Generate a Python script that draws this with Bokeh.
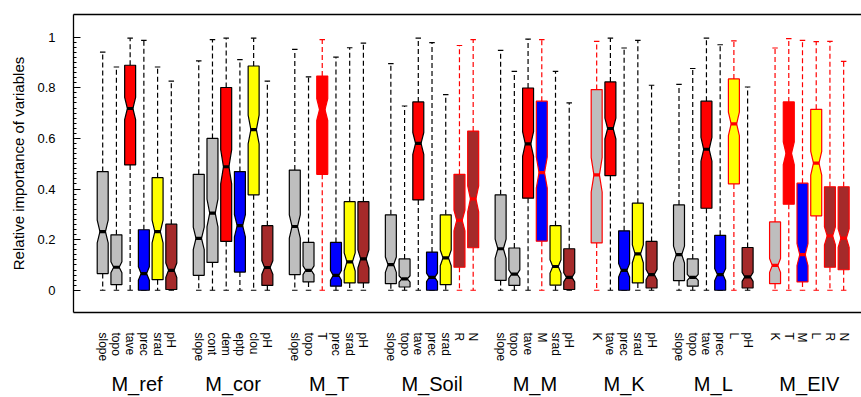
import math
from bokeh.plotting import figure
from bokeh.models import LinearAxis, FixedTicker, Range1d
from bokeh.embed import file_html
from bokeh.resources import INLINE

# ---------------- data ----------------
groups = ["M_ref", "M_cor", "M_T", "M_Soil", "M_M", "M_K", "M_L", "M_EIV"]
group_vars = [
    ["slope", "topo", "tave", "prec", "srad", "pH"],
    ["slope", "cont", "dem", "eptp", "clou", "pH"],
    ["slope", "topo", "T", "prec", "srad", "pH"],
    ["slope", "topo", "tave", "prec", "srad", "R", "N"],
    ["slope", "topo", "tave", "M", "srad", "pH"],
    ["K", "tave", "prec", "srad", "pH"],
    ["slope", "topo", "tave", "prec", "L", "pH"],
    ["K", "T", "M", "L", "R", "N"],
]
whisker_hi = [
    0.941, 0.882, 0.996, 0.987, 0.882, 0.826,
    0.906, 0.990, 0.996, 0.911, 0.996, 0.826,
    0.952, 0.843, 0.990, 0.921, 0.958, 0.976,
    0.895, 0.728, 0.996, 0.978, 0.773, 0.967, 0.990,
    0.948, 0.865, 0.992, 0.990, 0.865, 0.740,
    0.983, 0.996, 0.957, 0.987, 0.810,
    0.813, 0.876, 0.996, 0.970, 0.985, 0.803,
    0.957, 0.994, 0.987, 0.982, 0.983, 0.904,
]
q3 = [
    0.469, 0.219, 0.889, 0.239, 0.445, 0.261,
    0.458, 0.600, 0.801, 0.469, 0.886, 0.255,
    0.475, 0.189, 0.846, 0.189, 0.350, 0.350,
    0.298, 0.124, 0.744, 0.151, 0.298, 0.458, 0.629,
    0.377, 0.167, 0.799, 0.747, 0.255, 0.164,
    0.793, 0.823, 0.235, 0.344, 0.193,
    0.337, 0.124, 0.747, 0.217, 0.835, 0.169,
    0.270, 0.744, 0.423, 0.715, 0.409, 0.409,
]
median = [
    0.232, 0.091, 0.718, 0.066, 0.232, 0.079,
    0.205, 0.305, 0.488, 0.255, 0.635, 0.090,
    0.252, 0.079, 0.714, 0.059, 0.112, 0.124,
    0.101, 0.045, 0.580, 0.051, 0.128, 0.276, 0.361,
    0.164, 0.064, 0.578, 0.465, 0.094, 0.051,
    0.456, 0.639, 0.079, 0.144, 0.062,
    0.141, 0.051, 0.557, 0.062, 0.657, 0.053,
    0.098, 0.541, 0.141, 0.502, 0.215, 0.206,
]
q1 = [
    0.066, 0.022, 0.495, 0.000, 0.042, 0.003,
    0.059, 0.110, 0.193, 0.072, 0.377, 0.019,
    0.062, 0.033, 0.458, 0.016, 0.029, 0.029,
    0.026, 0.013, 0.357, 0.000, 0.022, 0.091, 0.168,
    0.039, 0.019, 0.364, 0.194, 0.020, 0.003,
    0.187, 0.453, 0.000, 0.029, 0.009,
    0.038, 0.016, 0.324, 0.000, 0.420, 0.009,
    0.026, 0.340, 0.033, 0.294, 0.091, 0.081,
]
whisker_lo = [
    0, 0, 0, 0, 0, 0,
    0, 0, 0, 0, 0, 0,
    0, 0, 0, 0, 0, 0,
    0, 0, 0, 0, 0, 0, 0,
    0, 0, 0, 0, 0, 0,
    0, 0, 0, 0, 0,
    0, 0, 0, 0, 0, 0,
    0, 0, 0, 0, 0, 0,
]
n_runs = 200  # sample size per box, used for the notch (1.58*IQR/sqrt(n))
y_ticks = [0, 0.2, 0.4, 0.6, 0.8, 1.0]
y_tick_labels = ["0", "0.2", "0.4", "0.6", "0.8", "1"]
eiv_vars = {"K", "T", "M", "L", "R", "N"}

GRAY, RED, BLUE, YELLOW, BROWN = "#BEBEBE", "#FF0000", "#0000FF", "#FFFF00", "#A52A2A"
fill_of = {"slope": GRAY, "topo": GRAY, "cont": GRAY, "K": GRAY,
           "tave": RED, "dem": RED, "T": RED,
           "prec": BLUE, "eptp": BLUE, "M": BLUE,
           "srad": YELLOW, "clou": YELLOW, "L": YELLOW,
           "pH": BROWN, "R": BROWN, "N": BROWN}

# ---------------- layout of boxes ----------------
positions, labels, group_centers = [], [], []
pos = 0
for gi, vars_ in enumerate(group_vars):
    if gi > 0:
        pos += 1
    start = pos + 1
    for v in vars_:
        pos += 1
        positions.append(pos)
        labels.append(v)
    group_centers.append((start + pos) / 2)

FONT = "Liberation Sans"
p = figure(width=861, height=397, output_backend="svg", toolbar_location=None,
           x_range=Range1d(-1.128, 56.30), y_range=Range1d(-0.0878, 1.0894),
           min_border_left=73, min_border_right=0, min_border_top=14,
           min_border_bottom=84, outline_line_color=None)
p.grid.visible = False
p.background_fill_color = "white"
p.border_fill_color = "white"

hw = 0.4      # half box width
nf = 0.5      # notch fraction
sw = 0.2      # half staple width
xs, ys, fills, borders = [], [], [], []
wx0, wy0, wx1, wy1, wcol = [], [], [], [], []
sx0, sx1, sy, scol = [], [], [], []
mx0, mx1, my, mcol = [], [], [], []
for i, x in enumerate(positions):
    lab = labels[i]
    b = RED if lab in eiv_vars else "black"
    iqr = q3[i] - q1[i]
    d = 1.58 * iqr / math.sqrt(n_runs)
    lo, hi = median[i] - d, median[i] + d
    xs.append([x - hw, x + hw, x + hw, x + hw * nf, x + hw, x + hw,
               x - hw, x - hw, x - hw * nf, x - hw])
    ys.append([q1[i], q1[i], lo, median[i], hi, q3[i], q3[i], hi, median[i], lo])
    fills.append(fill_of[lab])
    borders.append(b)
    wx0 += [x, x]; wx1 += [x, x]
    wy0 += [q3[i], q1[i]]; wy1 += [whisker_hi[i], whisker_lo[i]]
    wcol += [b, b]
    sx0 += [x - sw, x - sw]; sx1 += [x + sw, x + sw]
    sy += [whisker_hi[i], whisker_lo[i]]; scol += [b, b]
    mx0.append(x - hw * nf - 0.03); mx1.append(x + hw * nf + 0.03)
    my.append(median[i]); mcol.append(b)

p.segment(x0=wx0, y0=wy0, x1=wx1, y1=wy1, line_color=wcol, line_width=1.2,
          line_dash="5 3")
p.segment(x0=sx0, y0=sy, x1=sx1, y1=sy, line_color=scol, line_width=1.2)
p.patches(xs=xs, ys=ys, fill_color=fills, line_color=borders, line_width=1.2)
p.segment(x0=mx0, y0=my, x1=mx1, y1=my, line_color=mcol, line_width=3.2)

# ---------------- axes ----------------
xa = p.xaxis[0]
xa.ticker = FixedTicker(ticks=positions)
xa.major_label_overrides = {x: l for x, l in zip(positions, labels)}
xa.major_label_orientation = "vertical"
xa.major_label_text_font = FONT
xa.major_label_text_font_size = "12px"
xa.major_label_text_color = "black"
xa.major_label_standoff = 20
xa.major_tick_in = 0
xa.major_tick_out = 0
xa.minor_tick_line_color = None
xa.axis_line_color = "black"
xa.axis_line_width = 1.3

ga = LinearAxis(ticker=FixedTicker(ticks=group_centers))
ga.major_label_overrides = {x: g for x, g in zip(group_centers, groups)}
ga.major_label_text_font = FONT
ga.major_label_text_font_size = "20px"
ga.major_label_text_color = "black"
ga.major_label_standoff = 8
ga.major_tick_in = 0
ga.major_tick_out = 0
ga.major_tick_line_color = None
ga.minor_tick_line_color = None
ga.axis_line_color = None
p.add_layout(ga, "below")

ta = LinearAxis(ticker=FixedTicker(ticks=[]))
ta.axis_line_color = "black"
ta.axis_line_width = 1.3
ta.major_tick_line_color = None
ta.minor_tick_line_color = None
ta.major_tick_in = 0
ta.major_tick_out = 0
ta.major_label_standoff = 0
ta.major_label_text_font_size = "0px"
p.add_layout(ta, "above")

ya = p.yaxis[0]
minor = [k / 50 for k in range(51)]
ya.ticker = FixedTicker(ticks=y_ticks, minor_ticks=minor)
ya.major_label_overrides = {t: l for t, l in zip(y_ticks, y_tick_labels)}
ya.major_label_text_font = FONT
ya.major_label_text_font_size = "13px"
ya.major_label_text_color = "black"
ya.major_label_standoff = 18
ya.major_tick_in = 7
ya.major_tick_out = 0
ya.minor_tick_in = 3
ya.minor_tick_out = 0
ya.axis_line_color = "black"
ya.axis_line_width = 1.3
ya.axis_label = "Relative importance of variables"
ya.axis_label_text_font = FONT
ya.axis_label_text_font_size = "15px"
ya.axis_label_text_font_style = "normal"
ya.axis_label_text_color = "black"
ya.axis_label_standoff = 7

open("out.html", "w").write(file_html(p, INLINE))
